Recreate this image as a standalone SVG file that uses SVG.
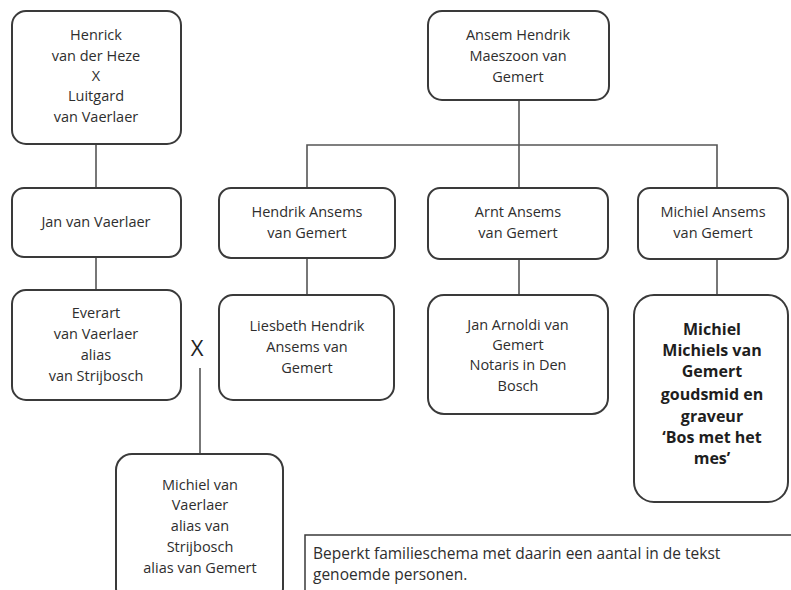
<svg xmlns="http://www.w3.org/2000/svg" width="791" height="590" viewBox="0 0 791 590">
<style>
.box{fill:#fff;stroke:#3a3a3a;stroke-width:2}
.cap{fill:#fff;stroke:#3a3a3a;stroke-width:1.5}
.ln{stroke:#555;stroke-width:1.6;fill:none}
text{font-family:"Open Sans","Liberation Sans",sans-serif;font-size:14.5px;fill:#2e2e2e;text-anchor:middle}
.b{font-weight:bold;font-size:16px;fill:#1e1e1e}
.x{font-size:22px;fill:#222}
.c{text-anchor:start;font-size:15.5px}
</style>
<rect width="791" height="590" fill="#fff"/>
<g id="connectors">
<line class="ln" x1="96" y1="144" x2="96" y2="188"/>
<line class="ln" x1="96" y1="257" x2="96" y2="290"/>
<line class="ln" x1="200" y1="368" x2="200" y2="454"/>
<line class="ln" x1="519" y1="100" x2="519" y2="188"/>
<polyline class="ln" points="307,188 307,145 717,145 717,188"/>
<line class="ln" x1="307" y1="257" x2="307" y2="295"/>
<line class="ln" x1="519" y1="259" x2="519" y2="295"/>
<line class="ln" x1="717" y1="259" x2="717" y2="295"/>
</g>
<g id="henrick">
<rect class="box" x="12" y="11" width="169" height="133" rx="14"/>
<text x="96" y="40">Henrick</text>
<text x="96" y="61">van der Heze</text>
<text x="96" y="81">X</text>
<text x="96" y="101">Luitgard</text>
<text x="96" y="122">van Vaerlaer</text>
</g>
<g id="ansem">
<rect class="box" x="428" y="11" width="181" height="89" rx="14"/>
<text x="518" y="40">Ansem Hendrik</text>
<text x="518" y="61">Maeszoon van</text>
<text x="518" y="82">Gemert</text>
</g>
<g id="jan">
<rect class="box" x="12" y="188" width="169" height="69" rx="12"/>
<text x="96" y="227">Jan van Vaerlaer</text>
</g>
<g id="everart">
<rect class="box" x="12" y="290" width="169" height="110" rx="14"/>
<text x="96" y="318">Everart</text>
<text x="96" y="339">van Vaerlaer</text>
<text x="96" y="360">alias</text>
<text x="96" y="381">van Strijbosch</text>
</g>
<text class="x" x="197" y="356">X</text>
<g id="michiel-vaerlaer">
<rect class="box" x="116" y="454" width="167" height="150" rx="16"/>
<text x="200" y="490">Michiel van</text>
<text x="200" y="510">Vaerlaer</text>
<text x="200" y="531">alias van</text>
<text x="200" y="552">Strijbosch</text>
<text x="200" y="573">alias van Gemert</text>
</g>
<g id="hendrik">
<rect class="box" x="219" y="188" width="176" height="70" rx="12"/>
<text x="307" y="217">Hendrik Ansems</text>
<text x="307" y="238">van Gemert</text>
</g>
<g id="arnt">
<rect class="box" x="428" y="188" width="180" height="71" rx="12"/>
<text x="518" y="217">Arnt Ansems</text>
<text x="518" y="238">van Gemert</text>
</g>
<g id="michiel-ansems">
<rect class="box" x="638" y="188" width="150" height="71" rx="12"/>
<text x="713" y="217">Michiel Ansems</text>
<text x="713" y="238">van Gemert</text>
</g>
<g id="liesbeth">
<rect class="box" x="219" y="295" width="175" height="105" rx="14"/>
<text x="307" y="331">Liesbeth Hendrik</text>
<text x="307" y="352">Ansems van</text>
<text x="307" y="373">Gemert</text>
</g>
<g id="jan-arnoldi">
<rect class="box" x="428" y="295" width="180" height="119" rx="16"/>
<text x="518" y="330">Jan Arnoldi van</text>
<text x="518" y="350">Gemert</text>
<text x="518" y="370">Notaris in Den</text>
<text x="518" y="391">Bosch</text>
</g>
<g id="michiel-michiels">
<rect class="box" x="634" y="295" width="154" height="207" rx="20"/>
<text class="b" x="712" y="335">Michiel</text>
<text class="b" x="712" y="356">Michiels van</text>
<text class="b" x="712" y="377">Gemert</text>
<text class="b" x="712" y="400">goudsmid en</text>
<text class="b" x="712" y="422">graveur</text>
<text class="b" x="712" y="443">‘Bos met het</text>
<text class="b" x="712" y="464">mes’</text>
</g>
<g id="caption">
<rect class="cap" x="305" y="535" width="496" height="70"/>
<text class="c" x="313" y="559">Beperkt familieschema met daarin een aantal in de tekst</text>
<text class="c" x="313" y="580">genoemde personen.</text>
</g>
</svg>
